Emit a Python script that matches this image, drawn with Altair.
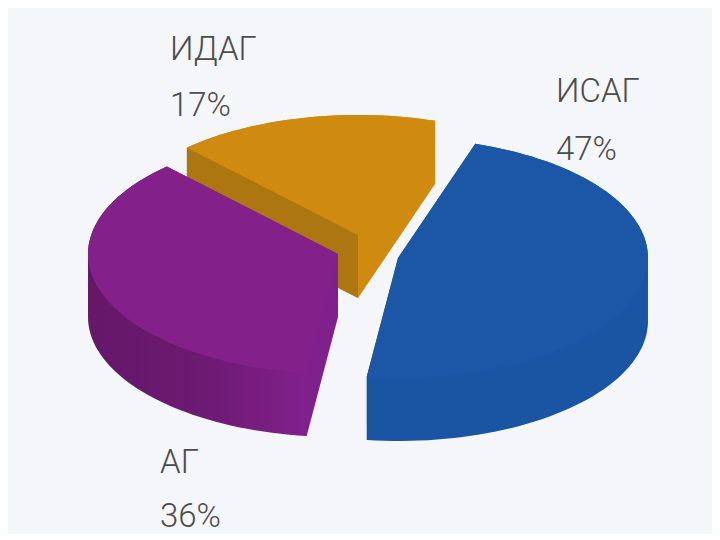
import math
import altair as alt
import pandas as pd

# Values
categories = ["ИСАГ", "АГ", "ИДАГ"]
shares = [47, 36, 17]
percent_labels = ["47%", "36%", "17%"]

# Drawing set-up of the tilted, exploded pie
START_ANGLE = 18.0
RX, RY, DEPTH = 250.0, 120.0, 63.0
CENTERS = {"ИСАГ": (398.0, 258.0), "АГ": (338.0, 254.0), "ИДАГ": (358.0, 235.0)}
TEXT_POS = {"ИДАГ": (170, 60, 116), "ИСАГ": (556, 102, 160), "АГ": (160, 473, 527)}
BG = "#f5f6f9"
INK = "#4c4c4e"

X = alt.X("x:Q", axis=None, scale=alt.Scale(domain=[8, 712], nice=False, zero=False))
Y = alt.Y("y:Q", axis=None, scale=alt.Scale(domain=[8, 532], nice=False, zero=False, reverse=True))


def sector(cat, a0, a1):
    cx, cy = CENTERS[cat]
    n = max(2, int((a1 - a0) / 2))
    pts = [(cx, cy)]
    for i in range(n + 1):
        a = math.radians(a0 + (a1 - a0) * i / n)
        pts.append((cx + RX * math.sin(a), cy - RY * math.cos(a)))
    return pts


def hull(points):
    pts = sorted(set(points))

    def half(seq):
        out = []
        for p in seq:
            while len(out) > 1 and (out[-1][0] - out[-2][0]) * (p[1] - out[-2][1]) - (out[-1][1] - out[-2][1]) * (p[0] - out[-2][0]) <= 0:
                out.pop()
            out.append(p)
        return out[:-1]

    return half(pts) + half(pts[::-1])


def poly(pts, fill):
    df = pd.DataFrame({"x": [p[0] for p in pts], "y": [p[1] for p in pts], "i": range(len(pts))})
    return (
        alt.Chart(df)
        .mark_line(filled=True, fill=fill, strokeOpacity=0, interpolate="linear-closed", clip=True)
        .encode(x=X, y=Y, order="i:Q")
    )


def shade(c0, c1, c2):
    return alt.Gradient(
        gradient="linear", x1=0, x2=1, y1=0, y2=0,
        stops=[alt.GradientStop(color=c0, offset=0), alt.GradientStop(color=c1, offset=0.45), alt.GradientStop(color=c2, offset=0.85)],
    )


angles = {}
a = START_ANGLE
for c, s in zip(categories, shares):
    angles[c] = (a, a + s * 3.6)
    a += s * 3.6

STYLE = {
    "ИСАГ": ("#1b57a6", "#1a55a3"),
    "АГ": ("#84208a", shade("#651768", "#6c1a72", "#80208a")),
    "ИДАГ": ("#cf8b10", "#cf8b10"),
}

layers = []
for c in ["ИДАГ", "АГ", "ИСАГ"]:
    top = sector(c, *angles[c])
    low = [(x, y + DEPTH) for x, y in top]
    layers.append(poly(hull(top + low), STYLE[c][1]))
    if c == "ИДАГ":
        cx, cy = CENTERS[c]
        corner = top[1]
        face = [(cx, cy), corner, (corner[0], corner[1] + DEPTH), (cx, cy + DEPTH)]
        layers.append(poly(face, "#ad7610"))
    layers.append(poly(top, STYLE[c][0]))

rows = []
for c, p in zip(categories, percent_labels):
    tx, y1, y2 = TEXT_POS[c]
    rows.append({"x": tx, "y": y1, "t": c})
    rows.append({"x": tx, "y": y2, "t": p})

text = (
    alt.Chart(pd.DataFrame(rows))
    .mark_text(align="left", baseline="alphabetic", font="Roboto", fontWeight=300, fontSize=33, color=INK)
    .encode(x=X, y=Y, text="t:N")
)

chart = (
    alt.layer(*layers, text)
    .properties(width=704, height=524, padding=0, background=BG)
    .configure_view(stroke=None)
)
chart.save("out.html", embed_options={"renderer": "svg", "actions": False})
